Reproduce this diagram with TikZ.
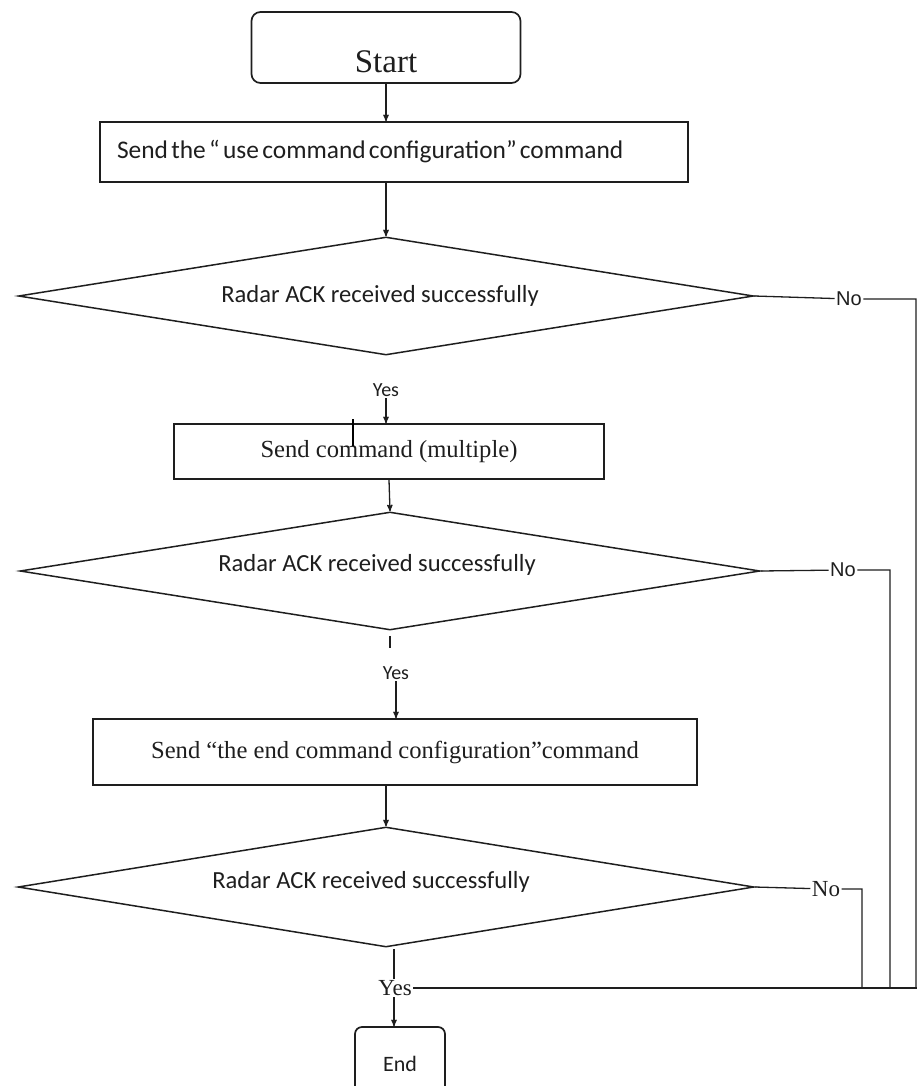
\documentclass[tikz,border=0pt]{standalone}
\usepackage{fontspec}
\setmainfont{Liberation Serif}
\newfontfamily\calibri{Carlito}
\newfontfamily\arialfam{Liberation Sans}
\usepackage{tikz}
\usetikzlibrary{arrows,shapes,positioning}
\definecolor{ink}{RGB}{30,30,30}
\newcommand{\sansbody}{\calibri\fontsize{24.6pt}{28pt}\selectfont}
\newcommand{\sanswide}{\calibri\fontsize{25.4pt}{28pt}\selectfont}
\newcommand{\serifbody}{\fontsize{24.6pt}{28pt}\selectfont}
\newcommand{\seriftitle}{\fontsize{33pt}{38pt}\selectfont}
\newcommand{\sanssmall}{\calibri\fontsize{20pt}{24pt}\selectfont}
\newcommand{\arialsmall}{\arialfam\fontsize{20pt}{24pt}\selectfont}
\newcommand{\serifsmall}{\fontsize{23pt}{26pt}\selectfont}
\newcommand{\sansend}{\calibri\fontsize{22pt}{26pt}\selectfont}
\tikzset{
  every picture/.style = {
    >=stealth',
    line width = 1.3pt,
    color = ink,
  }
  ,
  process/.style = {
    rectangle,
    draw,
    line width = 1.7pt,
    inner sep = 0pt
  }
  ,
  terminal/.style = {
    process,
    rounded corners = 9pt
  }
  ,
  decision/.style = {
    diamond,
    draw,
    line width = 1.5pt,
    inner sep = 0pt
  }
  , % labels of edges
  label-edge/.style = {
    inner sep = 1pt
  }
}

\begin{document}
\begin{tikzpicture}[x=1pt, y=-1pt]
  \useasboundingbox (0,0) rectangle (917,1086);
  \node[terminal, minimum width=269pt, minimum height=71pt, label={[yshift=-14pt]center:\seriftitle Start}] at (386,47.5) (start) {};
  \node[process, minimum height=60pt, text width=554pt, inner xsep=17pt, align=left] at (394,152) (send1) {\sanswide Send the “ use command configuration” command};
  \node[decision, minimum width=735pt, minimum height=118pt, label={[xshift=-6pt]center:\sansbody Radar ACK received successfully}] at (386,296) (ack1) {};
  \node[label-edge] at (386,390) (yes1) {\sanssmall Yes};
  \node[process, minimum width=430pt, minimum height=55pt] at (389,451.5) (send2) {\serifbody Send command (multiple)};
  \node[decision, minimum width=740pt, minimum height=118pt, label={[xshift=-13pt, yshift=6pt]center:\sansbody Radar ACK received successfully}] at (390,571) (ack2) {};
  \node[label-edge] at (396,673) (yes2) {\sanssmall Yes};
  \node[process, minimum width=604pt, minimum height=66pt] at (395,752) (send3) {\serifbody Send “the end command configuration”command};
  \node[decision, minimum width=736pt, minimum height=120pt, label={[xshift=-15pt, yshift=5pt]center:\sansbody Radar ACK received successfully}] at (386,887) (ack3) {};
  \node[label-edge] at (395,988) (yes3) {\serifsmall Yes};
  \node[terminal, minimum width=90pt, minimum height=74pt, rounded corners=7pt] at (400,1064) (end) {\sansend End};
  \node[label-edge] at (849,299) (no1) {\arialsmall No};
  \node[label-edge] at (843,570) (no2) {\arialsmall No};
  \node[label-edge] at (826,889) (no3) {\serifsmall No};
  \coordinate (j1) at (916,988);
  \coordinate (j2) at (890,988);
  \coordinate (j3) at (862,988);
  \coordinate (rim) at (917,988);
  \coordinate (stem) at (394,949);

  \draw[->] (start.south) -- (start.south |- send1.north);
  \draw[->] (ack1.north |- send1.south) -- (ack1.north);
  \draw[->] (yes1) -- (yes1 |- send2.north);
  \draw[->] (send2.south) -- (ack2.north);
  \draw[->] (yes2) -- (yes2 |- send3.north);
  \draw[->] (ack3.north |- send3.south) -- (ack3.north);
  \draw (stem) -- (stem |- yes3.north);
  \draw[->] (yes3.south -| stem) -- (end.north -| stem);
  \draw (yes3.east) -- (rim);
  % no branches
  \draw (ack1.east) -- (no1) -- (no1 -| j1) -- (j1);
  \draw (ack2.east) -- (no2) -- (no2 -| j2) -- (j2);
  \draw (ack3.east) -- (no3) -- (no3 -| j3) -- (j3);
  % cursor marks
  \draw[line width=2.4pt, black] ([shift={(-36,-4)}]send2.north) -- ++(0,27);
  \draw[line width=1.2pt] ([yshift=-5pt]ack2.south) -- ++(0,12);
\end{tikzpicture}
\end{document}
